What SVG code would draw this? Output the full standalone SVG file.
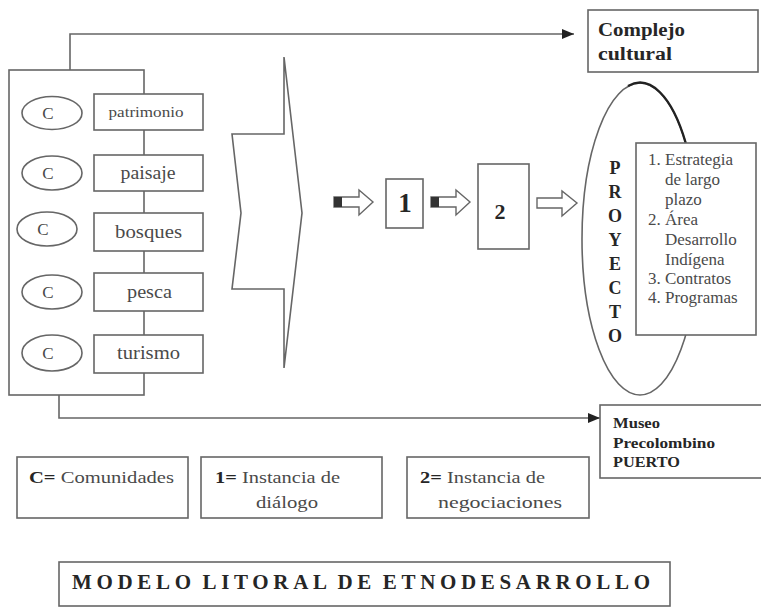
<svg xmlns="http://www.w3.org/2000/svg" width="761" height="608" viewBox="0 0 761 608">
<defs>
<marker id="ah" markerWidth="12" markerHeight="10" refX="12" refY="5" orient="auto" markerUnits="userSpaceOnUse"><path d="M0,0 L12,5 L0,10 z" fill="#222"/></marker>
<style>
.box{fill:#fff;stroke:#666;stroke-width:1.6}
.ln{fill:none;stroke:#666;stroke-width:1.6}
.t{font-family:"Liberation Serif","Times New Roman",serif;fill:#4a4a4a}
.b{font-weight:bold;fill:#262626}
.arr{fill:#fff;stroke:#666;stroke-width:1.4}
</style>
</defs>
<rect width="761" height="608" fill="#fff"/>

<g id="connectors">
<path class="ln" d="M70,70 V34 H574" marker-end="url(#ah)"/>
<path class="ln" d="M59,395 V418 H600" marker-end="url(#ah)"/>
</g>

<g id="container"><rect class="box" x="9" y="70" width="135" height="325"/></g>

<g id="item-patrimonio">
<ellipse class="box" cx="52" cy="113" rx="30" ry="16.5"/>
<text class="t" x="48" y="119" font-size="17" text-anchor="middle">C</text>
<rect class="box" x="94" y="94" width="109" height="36"/>
<text class="t" x="146" y="117" font-size="14" text-anchor="middle" textLength="75" lengthAdjust="spacingAndGlyphs">patrimonio</text>
</g>
<g id="item-paisaje">
<ellipse class="box" cx="52" cy="173" rx="30" ry="17"/>
<text class="t" x="48" y="179" font-size="17" text-anchor="middle">C</text>
<rect class="box" x="94" y="155" width="109" height="36"/>
<text class="t" x="148" y="179" font-size="18" text-anchor="middle" textLength="55" lengthAdjust="spacingAndGlyphs">paisaje</text>
</g>
<g id="item-bosques">
<ellipse class="box" cx="47" cy="229" rx="30" ry="17"/>
<text class="t" x="43" y="235" font-size="17" text-anchor="middle">C</text>
<rect class="box" x="94" y="213" width="109" height="38"/>
<text class="t" x="148.5" y="238" font-size="18" text-anchor="middle" textLength="67" lengthAdjust="spacingAndGlyphs">bosques</text>
</g>
<g id="item-pesca">
<ellipse class="box" cx="52" cy="292" rx="30" ry="17"/>
<text class="t" x="48" y="298" font-size="17" text-anchor="middle">C</text>
<rect class="box" x="94" y="273" width="109" height="38"/>
<text class="t" x="149.5" y="298" font-size="18" text-anchor="middle" textLength="45" lengthAdjust="spacingAndGlyphs">pesca</text>
</g>
<g id="item-turismo">
<ellipse class="box" cx="52" cy="353" rx="30" ry="18"/>
<text class="t" x="48" y="359" font-size="17" text-anchor="middle">C</text>
<rect class="box" x="94" y="335" width="109" height="38"/>
<text class="t" x="148.5" y="359" font-size="18" text-anchor="middle" textLength="63" lengthAdjust="spacingAndGlyphs">turismo</text>
</g>

<g id="big-arrow">
<path class="ln" d="M284,57 L284,134 L232,134 L241,213 L232,289 L284,289 L284,368 L302,213 Z" stroke-linejoin="miter"/>
</g>

<g id="arrow-a">
<path class="arr" d="M334,197 H359 V190 L373,202 L359,215 V207 H334 Z"/>
<rect x="334" y="197" width="8" height="10" fill="#333"/>
</g>
<g id="box-1">
<rect class="box" x="386" y="179" width="37" height="49"/>
<text class="t b" x="405" y="212" font-size="27" text-anchor="middle">1</text>
</g>
<g id="arrow-b">
<path class="arr" d="M431,197 H456 V190 L470,202 L456,215 V207 H431 Z"/>
<rect x="431" y="197" width="8" height="10" fill="#333"/>
</g>
<g id="box-2">
<rect class="box" x="478" y="164" width="51" height="85"/>
<text class="t b" x="500" y="219" font-size="22" text-anchor="middle">2</text>
</g>
<g id="arrow-c">
<path class="arr" d="M537,198 H562 V191 L577,203 L562,216 V208 H537 Z"/>
</g>

<g id="proyecto">
<ellipse class="box" cx="640" cy="239" rx="58" ry="156"/>
<path d="M628,86 A58,156 0 0 1 685.7,143" fill="none" stroke="#222" stroke-width="2.4"/>
<g class="t b" font-size="18" text-anchor="middle">
<text x="615" y="174">P</text>
<text x="615" y="198">R</text>
<text x="615" y="222">O</text>
<text x="615" y="246">Y</text>
<text x="615" y="270">E</text>
<text x="615" y="294">C</text>
<text x="615" y="318">T</text>
<text x="615" y="342">O</text>
</g>
</g>

<g id="lista">
<rect class="box" x="636" y="143" width="120" height="192"/>
<g class="t" font-size="17">
<text x="648" y="165">1.</text><text x="665" y="165">Estrategia</text>
<text x="665" y="185">de largo</text>
<text x="665" y="205">plazo</text>
<text x="648" y="225">2.</text><text x="665" y="225">Área</text>
<text x="665" y="245">Desarrollo</text>
<text x="665" y="265">Indígena</text>
<text x="648" y="284">3.</text><text x="665" y="284">Contratos</text>
<text x="648" y="303">4.</text><text x="665" y="303">Programas</text>
</g>
</g>

<g id="complejo">
<rect class="box" x="588" y="10" width="170" height="62"/>
<text class="t b" x="598" y="36" font-size="18" textLength="87" lengthAdjust="spacingAndGlyphs">Complejo</text>
<text class="t b" x="598" y="60" font-size="18" textLength="74" lengthAdjust="spacingAndGlyphs">cultural</text>
</g>

<g id="museo">
<rect class="box" x="600" y="405" width="165" height="73"/>
<text class="t b" x="613" y="428" font-size="14" textLength="47" lengthAdjust="spacingAndGlyphs">Museo</text>
<text class="t b" x="613" y="448" font-size="14" textLength="102" lengthAdjust="spacingAndGlyphs">Precolombino</text>
<text class="t b" x="613" y="467" font-size="14" textLength="67" lengthAdjust="spacingAndGlyphs">PUERTO</text>
</g>

<g id="legend-c">
<rect class="box" x="17" y="457" width="171" height="61"/>
<text class="t" x="29" y="483" font-size="17" textLength="145" lengthAdjust="spacingAndGlyphs"><tspan class="b">C=</tspan> Comunidades</text>
</g>
<g id="legend-1">
<rect class="box" x="201" y="457" width="181" height="61"/>
<text class="t" x="215" y="483" font-size="17" textLength="125" lengthAdjust="spacingAndGlyphs"><tspan class="b">1=</tspan> Instancia de</text>
<text class="t" x="256" y="508" font-size="17" textLength="62" lengthAdjust="spacingAndGlyphs">diálogo</text>
</g>
<g id="legend-2">
<rect class="box" x="407" y="457" width="182" height="61"/>
<text class="t" x="420" y="483" font-size="17" textLength="125" lengthAdjust="spacingAndGlyphs"><tspan class="b">2=</tspan> Instancia de</text>
<text class="t" x="438" y="508" font-size="17" textLength="124" lengthAdjust="spacingAndGlyphs">negociaciones</text>
</g>

<g id="titulo">
<rect class="box" x="59" y="562" width="611" height="44"/>
<text class="t b" x="72" y="589" font-size="21" word-spacing="-3" textLength="578" lengthAdjust="spacing">MODELO LITORAL DE ETNODESARROLLO</text>
</g>
</svg>
